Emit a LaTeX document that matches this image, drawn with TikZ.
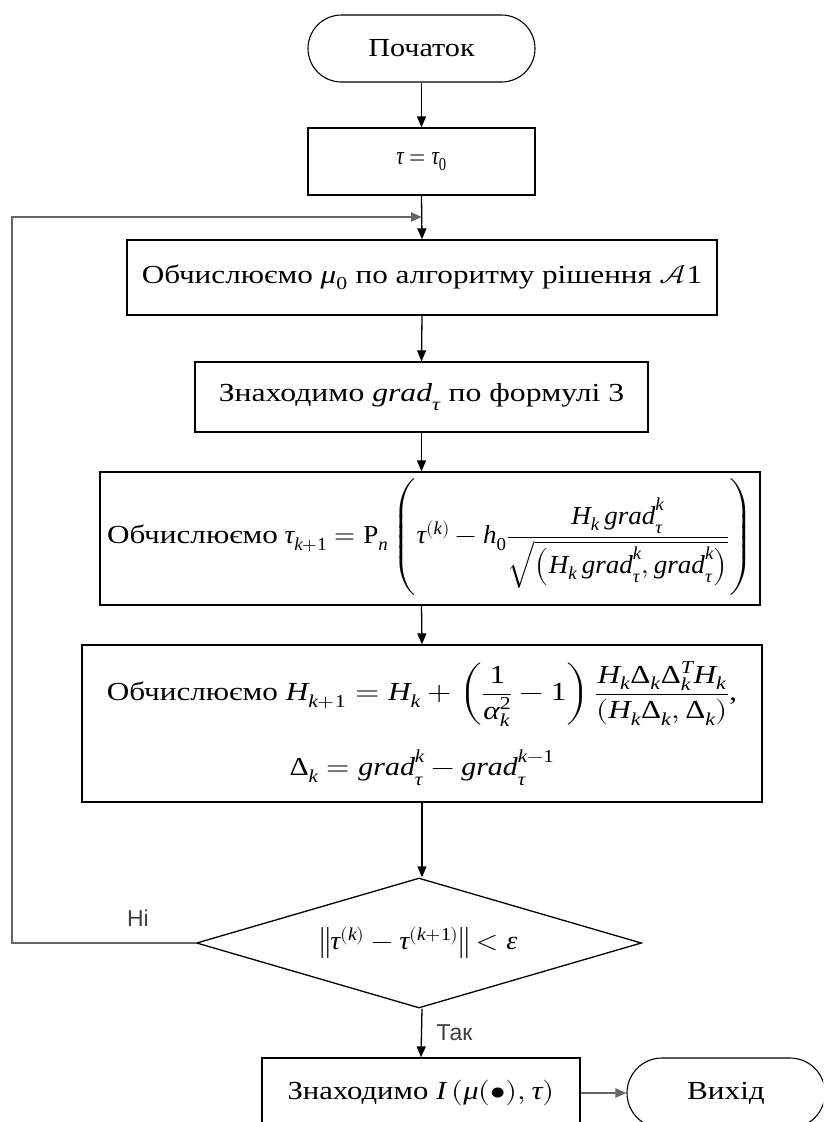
\documentclass[tikz,border=0pt]{standalone}
\usepackage{amsmath}
\usepackage{graphicx}
\usepackage{fontspec}
\usepackage{unicode-math}
\setmainfont{Liberation Serif}
\setmathfont{Latin Modern Math}
\setmathfont[range={it/{Latin,latin,Greek,greek}}]{Liberation Serif Italic}
\setmathfont[range={up/{Latin,latin,Greek,greek,num}}]{Liberation Serif}
\newfontfamily\labfont{Liberation Sans}
\usetikzlibrary{shapes.misc,shapes.geometric,arrows.meta}
\newcommand\hs[2]{\scalebox{#1}[1]{#2}}
\begin{document}
\begin{tikzpicture}[x=1pt,y=-1pt,
  txt/.style={font=\fontsize{26}{31}\selectfont},
  box/.style={txt, draw, line width=1.3pt, rectangle, inner sep=0pt, align=center},
  term/.style={txt, draw, line width=1.1pt, rounded rectangle, inner sep=0pt},
  dec/.style={txt, draw, line width=1.3pt, diamond, inner sep=0pt, shape aspect=3.4},
  arr/.style={-{Triangle[length=11pt,width=9pt]}, line width=1.3pt},
  garr/.style={-{Triangle[length=11pt,width=9pt]}, line width=2.2pt, draw=black!60},
  glab/.style={font=\labfont\fontsize{23}{27}\selectfont, text=black!75}
]
\useasboundingbox (0,0) rectangle (823,1122);
\clip (0,0) rectangle (823,1122);
\node[term, minimum width=227pt, minimum height=67pt] (start) at (421.5,48.5) {\hs{1.16}{Початок}};
\node[box, minimum width=227pt, minimum height=67pt] (init) at (421.5,161.5) {\hs{0.8}{$\tau=\tau_0$}};
\node[box, minimum width=590pt, minimum height=75pt] (mu) at (422,277.5) {\hs{1.2}{Обчислюємо $\mu_0$ по алгоритму рішення $\mathcal{A}1$}};
\node[box, minimum width=453pt, minimum height=70pt] (grad) at (421.5,397) {\hs{1.22}{Знаходимо $\mathit{grad}_\tau$ по формулі 3}};
\node[box, minimum width=660pt, minimum height=133pt] (tau) at (430,538.5) {\hs{1.2}{Обчислюємо} \hs{1.04}{$\tau_{k+1}=\mathrm{P}_n\left(\rule[-2.1em]{0pt}{4.5em}\tau^{(k)}-h_0\dfrac{H_k\,\mathit{grad}_\tau^k}{\sqrt{\left(H_k\,\mathit{grad}_\tau^k,\mathit{grad}_\tau^k\right)}}\right)$}};
\node[box, minimum width=680pt, minimum height=157pt] (H) at (422,723.5) {\hs{1.2}{Обчислюємо $H_{k+1}=H_k+\left(\dfrac{1}{\alpha_k^2}-1\right)\dfrac{H_k\Delta_k\Delta_k^T H_k}{\left(H_k\Delta_k,\Delta_k\right)}$,}\\[22pt] \hs{1.15}{$\Delta_k=\mathit{grad}_\tau^k-\mathit{grad}_\tau^{k-1}$}};
\node[dec, minimum width=445pt, minimum height=130pt] (cond) at (419,943) {\hs{1.08}{$\left\|\tau^{(k)}-\tau^{(k+1)}\right\|<\varepsilon$}};
\node[box, minimum width=318pt, minimum height=70pt] (res) at (421,1093) {\hs{1.18}{Знаходимо $I\left(\mu(\bullet),\tau\right)$}};
\node[term, minimum width=198pt, minimum height=70pt] (exit) at (726,1093) {\hs{1.2}{Вихід}};
\coordinate (loopL1) at (12,943);
\coordinate (loopL2) at (12,217);
\coordinate (join) at (422,217);
\draw[arr] (start.south) -- (init.north);
\draw[arr] (init.south) -- (mu.north);
\draw[arr] (mu.south) -- (grad.north);
\draw[arr] (grad.south) -- (grad.south |- tau.north);
\draw[arr] (grad.south |- tau.south) -- (H.north);
\draw[arr] (H.south) -- (H.south |- cond.north);
\draw[arr] (H.south |- cond.south) -- (res.north);
\draw[garr] (cond.west) -- (loopL1) -- (loopL2) -- (join);
\draw[garr] (res.east) -- (exit.west);
\node[glab] (no) at (138,918) {Ні};
\node[glab, anchor=west] (yes) at (433,1033) {Так};
\end{tikzpicture}
\end{document}
